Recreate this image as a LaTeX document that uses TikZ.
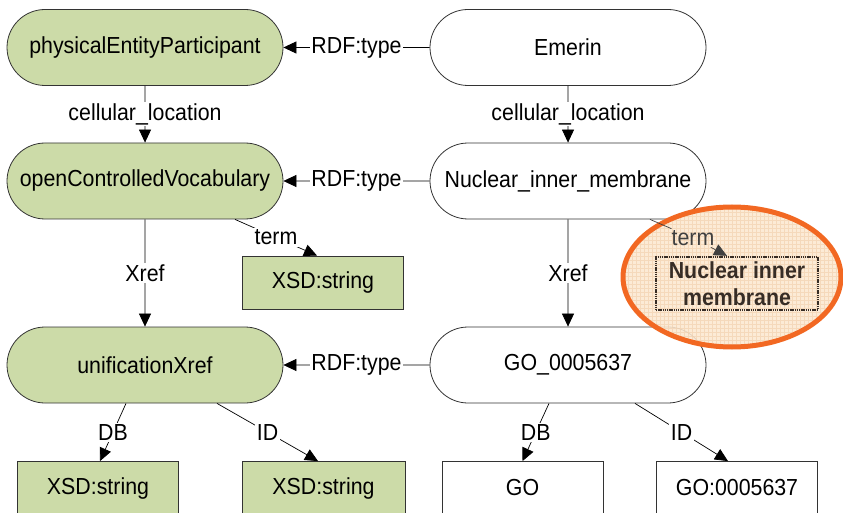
\documentclass[tikz,border=0pt]{standalone}
\usepackage{fontspec}
\setmainfont{Liberation Sans}[FakeStretch=0.92]
\usetikzlibrary{arrows.meta,shapes.misc}
\definecolor{grn}{RGB}{204,219,168}
\definecolor{peach}{RGB}{252,232,208}
\definecolor{peachgrid}{RGB}{240,205,170}
\definecolor{orng}{RGB}{242,104,34}
\definecolor{brn}{RGB}{55,45,38}
\begin{document}
\begin{tikzpicture}[x=1pt,y=-1pt,
  base/.style={font=\fontsize{23.2}{27}\selectfont, inner sep=0pt},
  oval/.style={base, rounded rectangle, draw=black!80, line width=0.8pt, minimum width=276pt, minimum height=76pt},
  goval/.style={oval, fill=grn},
  woval/.style={oval, fill=white},
  sbox/.style={base, rectangle, draw=black!80, line width=0.8pt, minimum width=161pt, minimum height=53pt},
  gbox/.style={sbox, fill=grn},
  wbox/.style={sbox, fill=white},
  lbl/.style={base, fill=white, inner sep=1.5pt},
  conn/.style={draw=black, line width=0.7pt, -{Triangle[length=13pt,width=12pt]}},
  plain/.style={draw=black, line width=0.7pt}
]
\useasboundingbox (0,0) rectangle (843,513);

% nodes
\node[goval] (pep) at (145,47.5) {physicalEntityParticipant};
\node[woval] (em)  at (568,47.5) {Emerin};
\node[goval] (ocv) at (145,181) {openControlledVocabulary};
\node[woval] (nim) at (568,181) {Nuclear\_inner\_membrane};
\node[goval] (ux)  at (145,365) {unificationXref};
\node[woval] (go)  at (568,365) {GO\_0005637};
\node[gbox]  (ts)  at (323,282.5) {XSD:string};
\node[gbox]  (x1)  at (98,488) {XSD:string};
\node[gbox, minimum width=163pt]  (x2)  at (323.5,488) {XSD:string};
\node[wbox]  (gb)  at (522.5,488) {GO};
\node[wbox]  (gid) at (737,488) {GO:0005637};

% connectors
\draw[conn] (em) -- node[lbl]{RDF:type} (pep);
\draw[conn] (nim) -- node[lbl]{RDF:type} (ocv);
\draw[conn] (go) -- node[lbl]{RDF:type} (ux);
\draw[conn] (pep) -- node[lbl]{cellular\_location} (ocv);
\draw[conn] (em) -- node[lbl]{cellular\_location} (nim);
\draw[conn] (ocv) -- node[lbl]{Xref} (ux);
\draw[conn] (nim) -- node[lbl]{Xref} (go);
\draw[conn] ([xshift=90pt]ocv.south) -- node[lbl]{term} ([xshift=-6pt]ts.north);
\draw[conn] ([xshift=-19pt]ux.south) -- node[lbl]{DB} ([xshift=2pt]x1.north);
\draw[conn] ([xshift=72pt]ux.south) -- node[lbl]{ID} ([xshift=-5.5pt]x2.north);
\draw[conn] ([xshift=-19pt]go.south) -- node[lbl]{DB} (gb.north);
\draw[conn] ([xshift=67pt]go.south) -- node[lbl]{ID} ([xshift=-9pt]gid.north);

% callout
\begin{scope}
  \clip (732,277) ellipse [x radius=109pt, y radius=70pt];
  \fill[peach, fill opacity=0.88] (620,200) rectangle (843,350);
  \draw[peachgrid, line width=0.3pt, opacity=0.6, step=4pt] (620,200) grid (843,350);
\end{scope}
\draw[orng, line width=5pt] (732,277) ellipse [x radius=109pt, y radius=70pt];
\node[base, rectangle, draw=brn, line width=2.4pt, dash pattern=on 1.4pt off 0.8pt,
      minimum width=162pt, minimum height=53pt, align=center, text=brn,
      font=\fontsize{23.2}{27}\selectfont\bfseries] (cb) at (737,283.5) {Nuclear inner\\membrane};
\node[base, text=black!75, inner sep=1.5pt] (tl) at (693,238) {term};
\draw[plain, black!75] ([xshift=82pt]nim.south) -- (tl);
\draw[conn, draw=black!75] (tl) -- ([xshift=-10pt]cb.north);
\end{tikzpicture}
\end{document}
